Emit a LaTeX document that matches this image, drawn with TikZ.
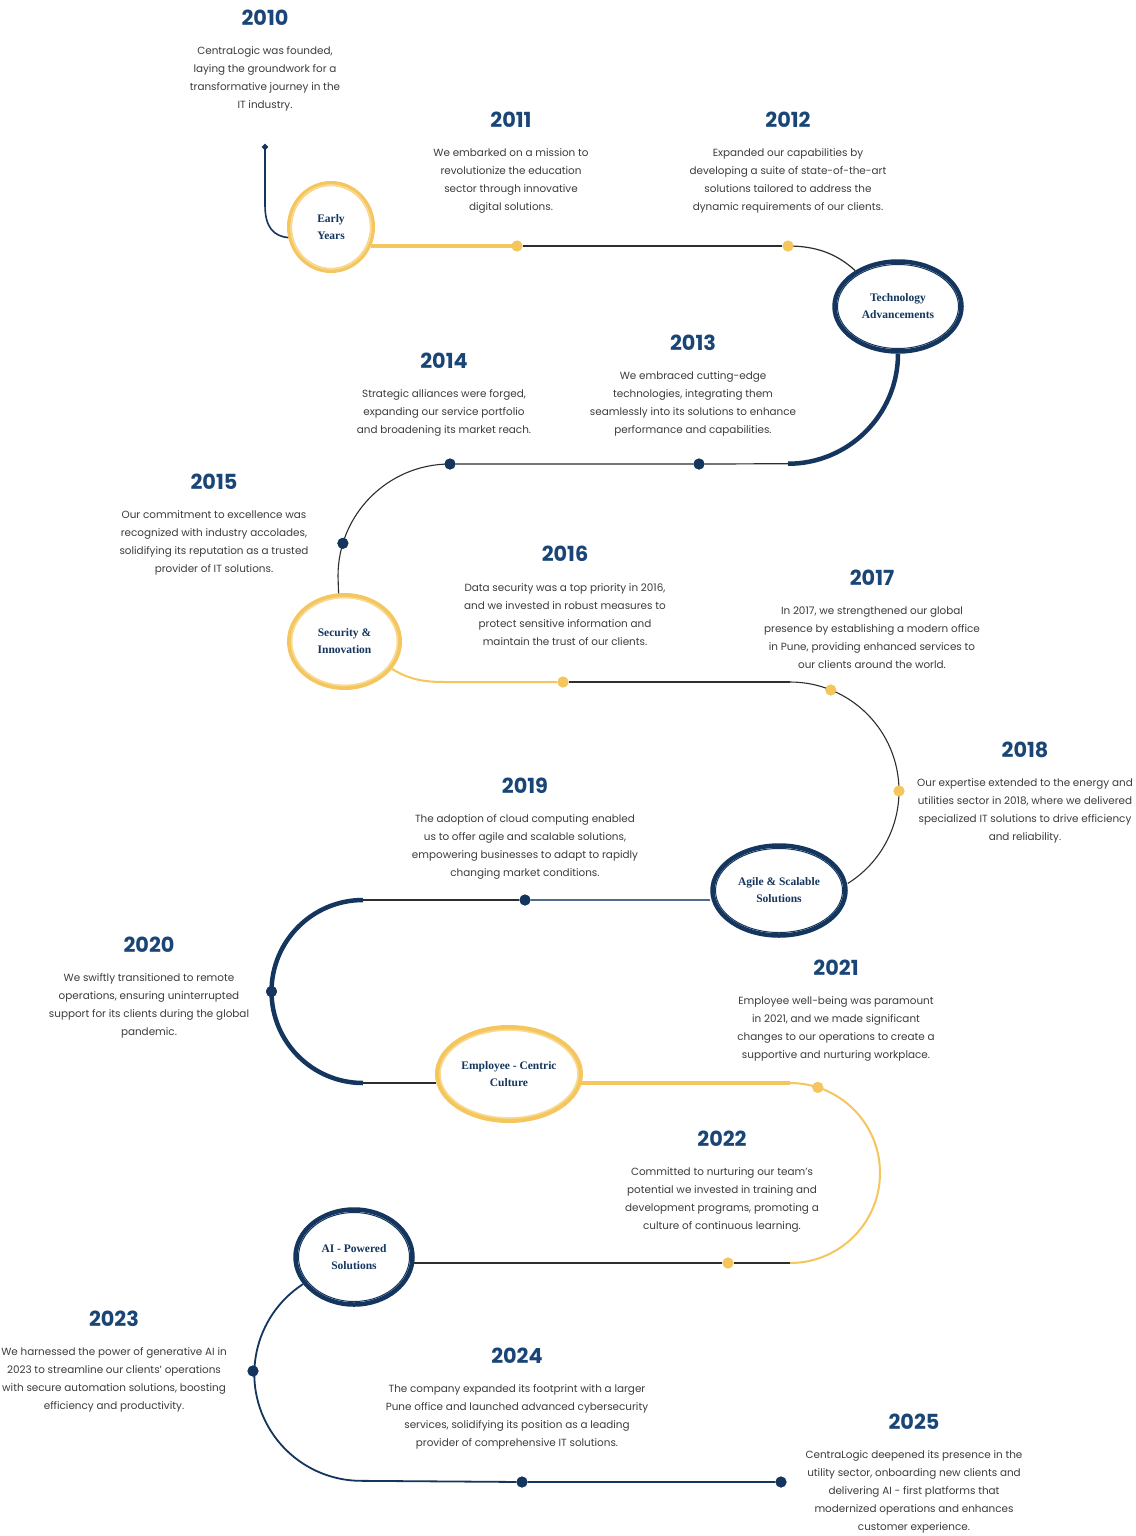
\documentclass[tikz,border=0pt]{standalone}
\usepackage{fontspec}
\setmainfont{Poppins}
\newfontfamily\labelserif{Liberation Serif}
\usetikzlibrary{shapes.geometric}
\definecolor{navy}{HTML}{14365E}
\definecolor{yearblue}{HTML}{1A4677}
\definecolor{gold}{HTML}{F5C65E}
\definecolor{goldlight}{HTML}{F9DA92}
\definecolor{bodytext}{HTML}{3C3C3C}
\definecolor{linegray}{HTML}{2E2E2E}
\definecolor{slate}{HTML}{4F6C8C}
\tikzset{
  year/.style={font=\fontsize{20.8}{24}\selectfont\bfseries, text=yearblue, inner sep=0, yshift=-0.7pt},
  desc/.style={font=\fontsize{10.4}{18}\selectfont, text=bodytext, align=center, inner sep=0, anchor=north, yshift=-1pt},
  phase/.style={ellipse, inner sep=0, font=\labelserif\bfseries\fontsize{11.5}{17}\selectfont, text=navy, align=center},
  navyring/.style={phase, draw=navy, line width=4.5},
  goldring/.style={phase, draw=gold, line width=5},
  dotg/.style={circle, fill=gold, minimum size=11, inner sep=0},
  dotn/.style={circle, fill=navy, minimum size=11, inner sep=0},
  thinline/.style={draw=linegray, line width=1.2},
  goldline/.style={draw=gold, line width=3.2},
  goldthin/.style={draw=gold, line width=2},
  navythick/.style={draw=navy, line width=4.5},
  navythin/.style={draw=navy, line width=1.8},
}
\begin{document}
\begin{tikzpicture}[x=1pt,y=1pt]
\useasboundingbox (0,0) rectangle (1135,-1536);
\fill[white] (0,0) rectangle (1135,-1536);

% ---------- phase rings (nodes) ----------
\node[goldring, minimum width=83, minimum height=87] (early) at (331,-227) {Early\\Years};
\node[navyring, minimum width=127, minimum height=90] (tech) at (898,-306.5) {Technology\\Advancements};
\node[goldring, minimum width=110, minimum height=92] (sec) at (344.5,-641.5) {Security \&\\Innovation};
\node[navyring, minimum width=133, minimum height=90] (agile) at (779,-890.5) {Agile \& Scalable\\Solutions};
\node[goldring, minimum width=143, minimum height=93] (emp) at (509,-1074) {Employee - Centric\\Culture};
\node[navyring, minimum width=117, minimum height=95] (ai) at (354,-1257) {AI - Powered\\Solutions};

% brush texture
\draw[goldlight, line width=1.6] (early.center) ellipse[x radius=40, y radius=42];
\draw[goldlight, line width=1.6] (sec.center) ellipse[x radius=53, y radius=44];
\draw[goldlight, line width=1.6] (emp.center) ellipse[x radius=69, y radius=44];
\draw[navy, line width=1] (tech.center) ellipse[x radius=60.5, y radius=42];
\draw[navy, line width=1] (agile.center) ellipse[x radius=63.5, y radius=42];
\draw[navy, line width=1] (ai.center) ellipse[x radius=55.5, y radius=44.5];

% ---------- dots ----------
\node[diamond, fill=navy, minimum size=7, inner sep=0] (start) at (265,-147) {};
\node[dotg] (g11) at (517,-246) {};
\node[dotg] (g12) at (788,-246) {};
\node[dotn] (n13) at (699,-464) {};
\node[dotn] (n14) at (450,-464) {};
\node[dotn] (n15) at (342.9,-543.3) {};
\node[dotg] (g16) at (563,-682) {};
\node[dotg] (g17) at (830.8,-690) {};
\node[dotg] (g18) at (899,-791) {};
\node[dotn] (n19) at (525,-900) {};
\node[dotn] (n20) at (271.5,-991.5) {};
\node[dotg] (g21) at (817.8,-1087.4) {};
\node[dotg] (g22) at (728,-1263) {};
\node[dotn] (n23) at (253,-1371) {};
\node[dotn] (n24) at (522,-1482) {};
\node[dotn] (n25) at (781,-1482) {};

% ---------- connectors ----------
\draw[navy, line width=1.6] (start.center) -- (265,-205) .. controls (265,-228) and (274,-236) .. (early.194);
\draw[goldline] ([xshift=-4pt]g11 -| early.east) -- (g11.center);
\draw[thinline] (g11) -- (g12);
\draw[thinline] (g12.center) .. controls (815,-246) and (836,-253) .. (tech.140);
\draw[navythick] (tech.south) arc[start angle=0, end angle=-90, radius=110] coordinate (turnA);
\draw[thinline] (turnA) -- (n13) -- (n14);
\draw[draw=linegray, line width=1.1] (n14.center) arc[start angle=90, end angle=180, radius=112] coordinate (turnB) -- (sec.97);
\draw[goldthin] (sec.-30) .. controls (410,-680) and (425,-682) .. (445,-682) -- (g16);
\draw[thinline] (g16) -- (790,-682) coordinate (turnC);
\draw[draw=linegray, line width=1.1] (turnC) arc[start angle=90, end angle=-58, radius=109];
\draw[draw=slate, line width=1.3] (n19 -| agile.west) -- (n19);
\draw[thinline] (n19) -- (363,-900) coordinate (turnD);
\draw[navythick] (turnD) arc[start angle=90, end angle=270, radius=91.5] coordinate (turnE);
\draw[thinline] (turnE) -- ([xshift=1pt]turnE -| emp.west);
\draw[goldline] ([xshift=-2pt]emp.east |- turnE) -- (790,-1083) coordinate (turnF);
\draw[goldthin] (turnF) arc[start angle=90, end angle=-90, radius=90] coordinate (turnG);
\draw[thinline] (turnG) -- (g22) -- ([xshift=-2pt]g22 -| ai.east);
\draw[navythin] (ai.208) arc[start angle=123, end angle=270, radius=107] coordinate (turnH) -- (n24) -- (n25);

% redraw dots on top
\foreach \d in {g11,g12,g16,g17,g18,g21,g22}{\fill[gold] (\d.center) circle[radius=5.5];}
\foreach \d in {n13,n14,n15,n19,n20,n23,n24,n25}{\fill[navy] (\d.center) circle[radius=5.5];}

% ---------- years and texts ----------
\node[year] (y2010) at (265,-17) {2010};
\node[desc] (t2010) at (265,-45.5) {CentraLogic was founded,\\laying the groundwork for a\\transformative journey in the\\IT industry.};
\node[year] (y2011) at (511,-119) {2011};
\node[desc] (t2011) at (511,-147.5) {We embarked on a mission to\\revolutionize the education\\sector through innovative\\digital solutions.};
\node[year] (y2012) at (788,-119) {2012};
\node[desc] (t2012) at (788,-147.5) {Expanded our capabilities by\\developing a suite of state-of-the-art\\solutions tailored to address the\\dynamic requirements of our clients.};
\node[year] (y2013) at (693,-342) {2013};
\node[desc] (t2013) at (693,-370.5) {We embraced cutting-edge\\technologies, integrating them\\seamlessly into its solutions to enhance\\performance and capabilities.};
\node[year] (y2014) at (444,-360) {2014};
\node[desc] (t2014) at (444,-388.5) {Strategic alliances were forged,\\expanding our service portfolio\\and broadening its market reach.};
\node[year] (y2015) at (214,-481) {2015};
\node[desc] (t2015) at (214,-509.5) {Our commitment to excellence was\\recognized with industry accolades,\\solidifying its reputation as a trusted\\provider of IT solutions.};
\node[year] (y2016) at (565,-553) {2016};
\node[desc] (t2016) at (565,-582.5) {Data security was a top priority in 2016,\\and we invested in robust measures to\\protect sensitive information and\\maintain the trust of our clients.};
\node[year] (y2017) at (872,-577) {2017};
\node[desc] (t2017) at (872,-605.5) {In 2017, we strengthened our global\\presence by establishing a modern office\\in Pune, providing enhanced services to\\our clients around the world.};
\node[year] (y2018) at (1025,-749) {2018};
\node[desc] (t2018) at (1025,-777.5) {Our expertise extended to the energy and\\utilities sector in 2018, where we delivered\\specialized IT solutions to drive efficiency\\and reliability.};
\node[year] (y2019) at (525,-785) {2019};
\node[desc] (t2019) at (525,-813.5) {The adoption of cloud computing enabled\\us to offer agile and scalable solutions,\\empowering businesses to adapt to rapidly\\changing market conditions.};
\node[year] (y2020) at (149,-944) {2020};
\node[desc] (t2020) at (149,-972.5) {We swiftly transitioned to remote\\operations, ensuring uninterrupted\\support for its clients during the global\\pandemic.};
\node[year] (y2021) at (836,-967) {2021};
\node[desc] (t2021) at (836,-995.5) {Employee well-being was paramount\\in 2021, and we made significant\\changes to our operations to create a\\supportive and nurturing workplace.};
\node[year] (y2022) at (722,-1138) {2022};
\node[desc] (t2022) at (722,-1166.5) {Committed to nurturing our team's\\potential we invested in training and\\development programs, promoting a\\culture of continuous learning.};
\node[year] (y2023) at (114,-1318) {2023};
\node[desc] (t2023) at (114,-1346.5) {We harnessed the power of generative AI in\\2023 to streamline our clients' operations\\with secure automation solutions, boosting\\efficiency and productivity.};
\node[year] (y2024) at (517,-1355) {2024};
\node[desc] (t2024) at (517,-1383.5) {The company expanded its footprint with a larger\\Pune office and launched advanced cybersecurity\\services, solidifying its position as a leading\\provider of comprehensive IT solutions.};
\node[year] (y2025) at (914,-1421) {2025};
\node[desc] (t2025) at (914,-1449.5) {CentraLogic deepened its presence in the\\utility sector, onboarding new clients and\\delivering AI - first platforms that\\modernized operations and enhances\\customer experience.};
\end{tikzpicture}
\end{document}
